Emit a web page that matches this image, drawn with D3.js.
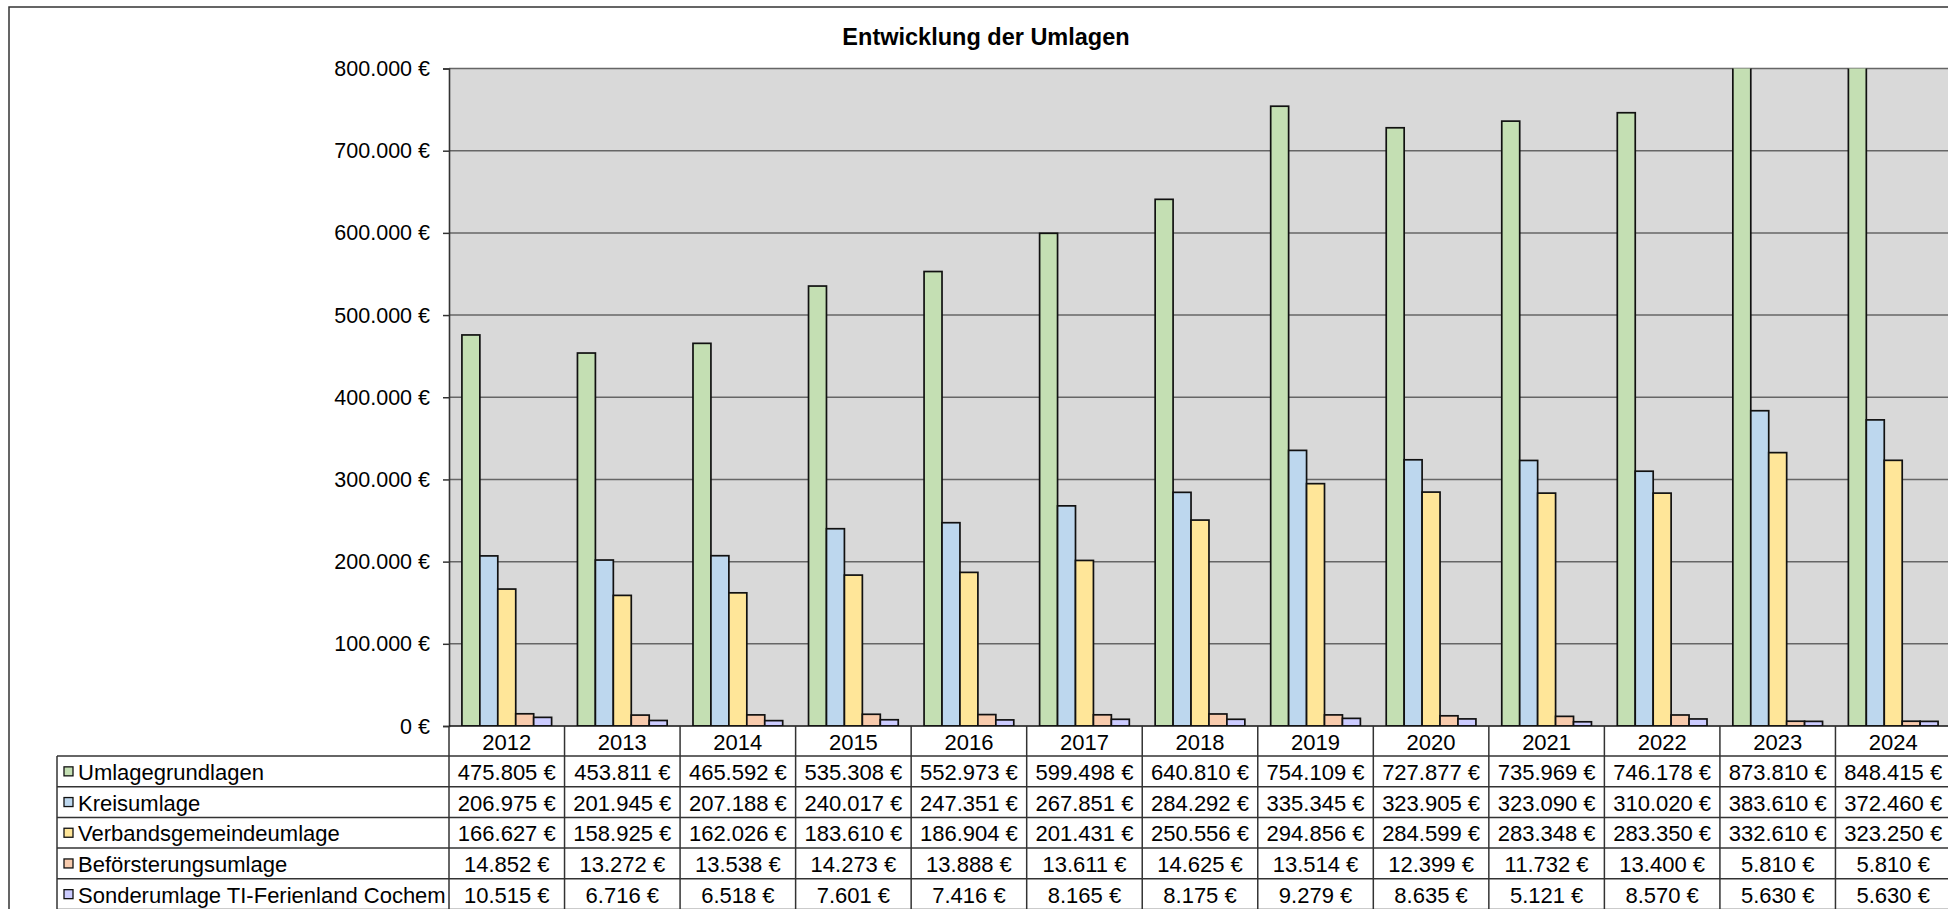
<!DOCTYPE html>
<html>
<head>
<meta charset="utf-8">
<script src="https://cdn.jsdelivr.net/npm/d3@7"></script>
<style>
  html, body { margin: 0; padding: 0; background: #fff; overflow: hidden; }
  text { font-family: "Liberation Sans", Arial, sans-serif; fill: #000; }
</style>
</head>
<body>
<div id="chart"></div>
<script>
(function() {

  var years = ["2012","2013","2014","2015","2016","2017","2018","2019","2020","2021","2022","2023","2024"];
  var seriesNames = ["Umlagegrundlagen","Kreisumlage","Verbandsgemeindeumlage","Beförsterungsumlage","Sonderumlage TI-Ferienland Cochem"];
  var umlagegrundlagen = [475805,453811,465592,535308,552973,599498,640810,754109,727877,735969,746178,873810,848415];
  var kreisumlage = [206975,201945,207188,240017,247351,267851,284292,335345,323905,323090,310020,383610,372460];
  var verbandsgemeindeumlage = [166627,158925,162026,183610,186904,201431,250556,294856,284599,283348,283350,332610,323250];
  var befoersterungsumlage = [14852,13272,13538,14273,13888,13611,14625,13514,12399,11732,13400,5810,5810];
  var sonderumlage = [10515,6716,6518,7601,7416,8165,8175,9279,8635,5121,8570,5630,5630];
  var yTicks = [0,100000,200000,300000,400000,500000,600000,700000,800000];
  var colors = ["#C4DFB3","#BDD7EE","#FFE699","#F8CBAD","#CCCCFF"];

  var seriesValues = [umlagegrundlagen, kreisumlage, verbandsgemeindeumlage, befoersterungsumlage, sonderumlage];

  var width = 1948, height = 909;
  var plot = { left: 449, right: 1951, top: 68.5, bottom: 726 };
  var rowH = 30.7;
  var tableTop = 756;     // first data row
  var tableLeft = 57;

  var de = d3.formatLocale({ decimal: ",", thousands: ".", grouping: [3], currency: ["", " €"] });
  var fmt = function(v) { return de.format(",.0f")(v) + " €"; };

  var svg = d3.select("#chart").append("svg")
    .attr("width", width)
    .attr("height", height);

  // outer chart frame (runs off the right / bottom edge)
  svg.append("rect")
    .attr("x", 9).attr("y", 7)
    .attr("width", 2100).attr("height", 1000)
    .attr("fill", "#fff")
    .attr("stroke", "#333").attr("stroke-width", 1.5);

  function label(g, x, y, str, size, anchor, weight) {
    return g.append("text")
      .attr("x", x).attr("y", y)
      .attr("text-anchor", anchor || "middle")
      .attr("dy", "0.35em")
      .style("font-size", size + "px")
      .style("font-weight", weight || "normal")
      .text(str);
  }

  // title
  label(svg, 986, 37, "Entwicklung der Umlagen", 23.5, "middle", "bold");

  var x0 = d3.scaleBand().domain(years).range([plot.left, plot.right]);
  var x1 = d3.scaleBand().domain(d3.range(seriesNames.length))
    .range([0, x0.bandwidth()]).paddingInner(0).paddingOuter(0.72);
  var y = d3.scaleLinear().domain([0, 800000]).range([plot.bottom, plot.top]);

  // plot background
  svg.append("rect")
    .attr("x", plot.left).attr("y", plot.top)
    .attr("width", plot.right - plot.left).attr("height", plot.bottom - plot.top)
    .attr("fill", "#D9D9D9");

  // gridlines
  svg.append("g").selectAll("line")
    .data(yTicks.filter(function(d) { return d > 0; }))
    .enter().append("line")
    .attr("x1", plot.left).attr("x2", plot.right)
    .attr("y1", function(d) { return y(d); }).attr("y2", function(d) { return y(d); })
    .attr("stroke", "#666").attr("stroke-width", 1.5);

  // clip so the 2023/2024 bars stop at the top
  svg.append("clipPath").attr("id", "plotclip")
    .append("rect")
    .attr("x", plot.left).attr("y", plot.top)
    .attr("width", plot.right - plot.left).attr("height", plot.bottom - plot.top);

  var groups = svg.append("g").attr("clip-path", "url(#plotclip)")
    .selectAll("g")
    .data(years)
    .enter().append("g")
    .attr("transform", function(d) { return "translate(" + x0(d) + ",0)"; });

  groups.selectAll("rect")
    .data(function(d, i) { return seriesValues.map(function(s, k) { return { k: k, v: s[i] }; }); })
    .enter().append("rect")
    .attr("x", function(d) { return x1(d.k); })
    .attr("y", function(d) { return y(d.v); })
    .attr("width", x1.bandwidth())
    .attr("height", function(d) { return y(0) - y(d.v); })
    .attr("fill", function(d) { return colors[d.k]; })
    .attr("stroke", "#111")
    .attr("stroke-width", 1.7);

  // y axis
  var yAxis = svg.append("g")
    .attr("transform", "translate(" + plot.left + ",0)")
    .call(d3.axisLeft(y).tickValues(yTicks).tickSize(6).tickFormat(""));
  yAxis.select(".domain").attr("stroke", "#333").attr("stroke-width", 1.6);
  yAxis.selectAll(".tick line").attr("stroke", "#333").attr("stroke-width", 1.5);

  yTicks.forEach(function(t) {
    label(svg, 430, y(t), fmt(t), 21.5, "end");
  });

  // baseline
  svg.append("line")
    .attr("x1", plot.left).attr("x2", plot.right)
    .attr("y1", y(0)).attr("y2", y(0))
    .attr("stroke", "#111").attr("stroke-width", 1.6);

  // data table
  var table = svg.append("g");
  var tableBottom = tableTop + rowH * seriesNames.length;

  // horizontal rules
  d3.range(seriesNames.length + 1).forEach(function(r) {
    table.append("line")
      .attr("x1", tableLeft).attr("x2", plot.right + 5)
      .attr("y1", tableTop + r * rowH).attr("y2", tableTop + r * rowH)
      .attr("stroke", "#333").attr("stroke-width", 1.5);
  });
  // left edge of table
  table.append("line")
    .attr("x1", tableLeft).attr("x2", tableLeft)
    .attr("y1", tableTop).attr("y2", tableBottom)
    .attr("stroke", "#333").attr("stroke-width", 1.5);
  // column dividers, including the year row
  years.concat(["end"]).forEach(function(yr, i) {
    var xx = plot.left + i * x0.step();
    table.append("line")
      .attr("x1", xx).attr("x2", xx)
      .attr("y1", plot.bottom).attr("y2", tableBottom)
      .attr("stroke", "#333").attr("stroke-width", 1.5);
  });

  // year labels
  years.forEach(function(yr) {
    label(table, x0(yr) + x0.bandwidth() / 2, (plot.bottom + tableTop) / 2 + 1, yr, 22, "middle");
  });

  // legend keys + names + values
  seriesNames.forEach(function(name, k) {
    var cy = tableTop + k * rowH + rowH / 2;
    table.append("rect")
      .attr("x", 64).attr("y", cy - 4.5)
      .attr("width", 9).attr("height", 9)
      .attr("fill", colors[k]).attr("stroke", "#111").attr("stroke-width", 1.3);
    label(table, 78, cy + 1, name, 22, "start");
    seriesValues[k].forEach(function(v, i) {
      label(table, x0(years[i]) + x0.bandwidth() / 2, cy + 1, fmt(v), 22, "middle");
    });
  });

})();
</script>
</body>
</html>
